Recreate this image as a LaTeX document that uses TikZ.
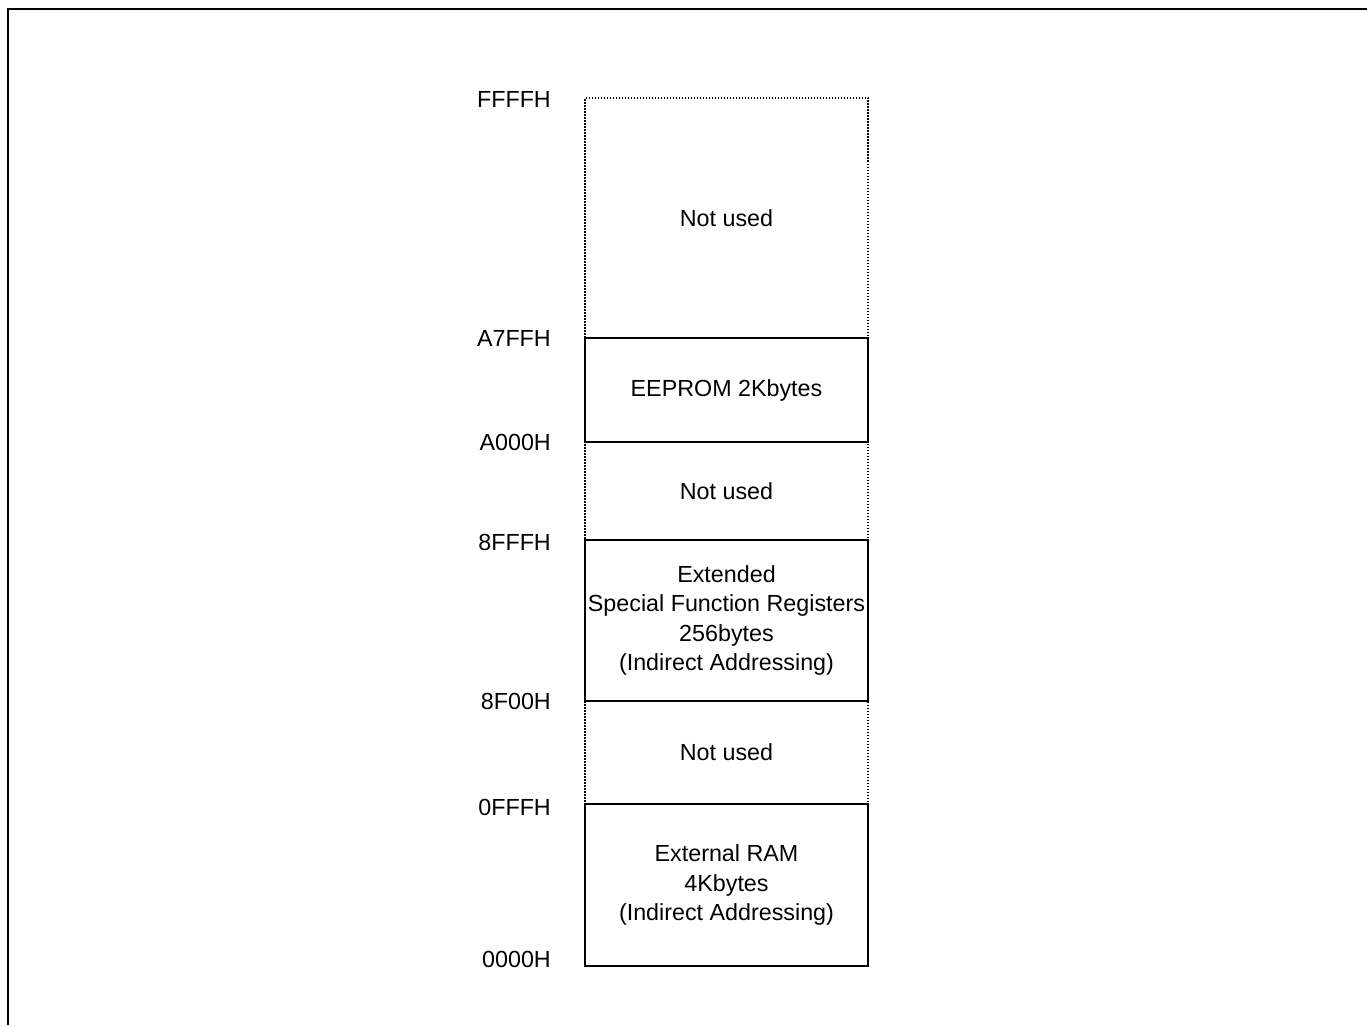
\documentclass[tikz,border=0pt]{standalone}
\usepackage{fontspec}
\setmainfont{Liberation Sans}
\begin{document}
\begin{tikzpicture}[x=1pt,y=-1pt,
  every node/.style={font=\fontsize{23.3}{29.5}\selectfont},
  region/.style={minimum width=283pt, anchor=north west, inner sep=0pt,
                 outer sep=0pt, align=center},
  usedbox/.style={region, draw, line width=1.3pt},
  freebox/.style={region, draw, line width=1.1pt, dash pattern=on 1.5pt off 1.5pt},
  addr/.style={anchor=east, inner sep=0pt}]
  \useasboundingbox (0,0) rectangle (1367,1025);
  % page frame
  \draw[line width=2.6pt] (8,1025) -- (8,9) -- (1367,9);

  % unused address ranges (dotted)
  \node[freebox, minimum height=240pt] (free1) at (585,98)  {Not used};
  \node[freebox, minimum height=98pt]  (free2) at (585,442) {Not used};
  \node[freebox, minimum height=103pt] (free3) at (585,701) {Not used};

  % occupied address ranges
  \node[usedbox, minimum height=104pt] (eeprom) at (585,338) {EEPROM 2Kbytes};
  \node[usedbox, minimum height=161pt] (esfr)   at (585,540)
    {Extended\\Special Function Registers\\256bytes\\(Indirect Addressing)};
  \node[usedbox, minimum height=162pt] (xram)   at (585,804)
    {External RAM\\4Kbytes\\(Indirect Addressing)};

  % address labels
  \node[addr] (aFFFF) at (551,99)  {FFFFH};
  \node[addr] (aA7FF) at (551,338) {A7FFH};
  \node[addr] (aA000) at (551,442) {A000H};
  \node[addr] (a8FFF) at (551,542) {8FFFH};
  \node[addr] (a8F00) at (551,701) {8F00H};
  \node[addr] (a0FFF) at (551,807) {0FFFH};
  \node[addr] (a0000) at (551,959) {0000H};
\end{tikzpicture}
\end{document}
